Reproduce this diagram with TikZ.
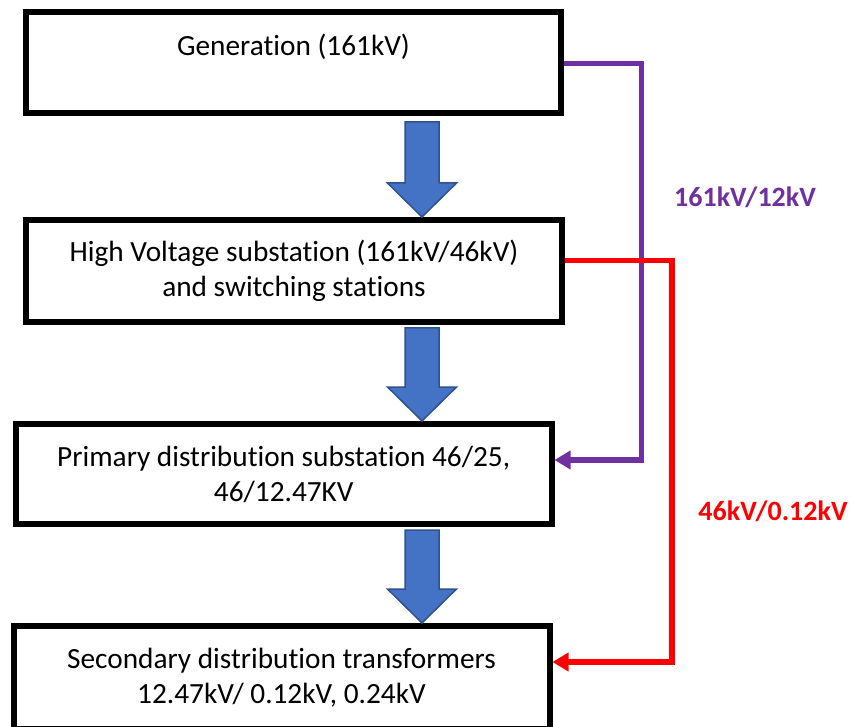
\documentclass[tikz,border=0pt]{standalone}
\usepackage{fontspec}
\setmainfont[Ligatures={NoCommon}]{Carlito}
\usetikzlibrary{arrows.meta}
\definecolor{flowblue}{HTML}{4472C4}
\definecolor{flowblueedge}{HTML}{2F528F}
\definecolor{feedpurple}{HTML}{7030A0}
\definecolor{feedred}{HTML}{FF0000}

% down-pointing block arrow: centre x, top y, tip y
\newcommand\downblock[3]{%
  \draw[blockarrow] (#1-17,#2) -- (#1+17,#2) -- (#1+17,#3-34) -- (#1+34.5,#3-34)
    -- (#1,#3) -- (#1-34.5,#3-34) -- (#1-17,#3-34) -- cycle;}

\begin{document}
\begin{tikzpicture}[x=1pt,y=-1pt,
  stagebox/.style={draw=black, line width=6pt, fill=white, rectangle,
    inner sep=0pt, align=center, font=\fontsize{29.3}{35}\selectfont},
  stagetext/.style={inner sep=0pt, align=center, font=\fontsize{29.3}{35}\selectfont},
  feeder/.style={line width=5.5pt, line join=miter, -{Triangle[length=16pt,width=18pt]}},
  ratio/.style={inner sep=0pt, font=\fontsize{28}{35}\selectfont\bfseries},
  blockarrow/.style={fill=flowblue, draw=flowblueedge, line width=1.5pt, line join=miter}
]
\useasboundingbox (0,0) rectangle (857,727);

% supply chain stages
\node[stagebox, minimum width=535pt, minimum height=101pt] (gen) at (293.5,62.5) {};
\node[stagetext] (gentext) at (293.5,47) {Generation (161kV)};
\node[stagebox, minimum width=536pt, minimum height=102pt] (hv) at (294,271)
  {High Voltage substation (161kV/46kV)\\and switching stations};
\node[stagebox, minimum width=535.5pt, minimum height=100pt] (prim) at (283.75,474)
  {Primary distribution substation 46/25,\\46/12.47KV};
\node[stagebox, minimum width=536pt, minimum height=103pt] (sec) at (281.5,677.5)
  {Secondary distribution transformers\\12.47kV/ 0.12kV, 0.24kV};

% step-down arrows between stages
\downblock{422}{122}{217}
\downblock{422}{328}{421}
\downblock{422}{530}{623}

% direct feeders bypassing intermediate stages
\draw[feeder, feedpurple] ([yshift=-1pt]gen.east) -- ++(77.5,0) |- ([yshift=14pt]prim.east);
\draw[feeder, feedred] ([yshift=10.5pt]hv.east) -- ++(107,0) |- ([yshift=15.5pt]sec.east);

\node[ratio, text=feedpurple] (lblpurple) at (745,197) {161kV/12kV};
\node[ratio, text=feedred] (lblred) at (773,511) {46kV/0.12kV};
\end{tikzpicture}
\end{document}
